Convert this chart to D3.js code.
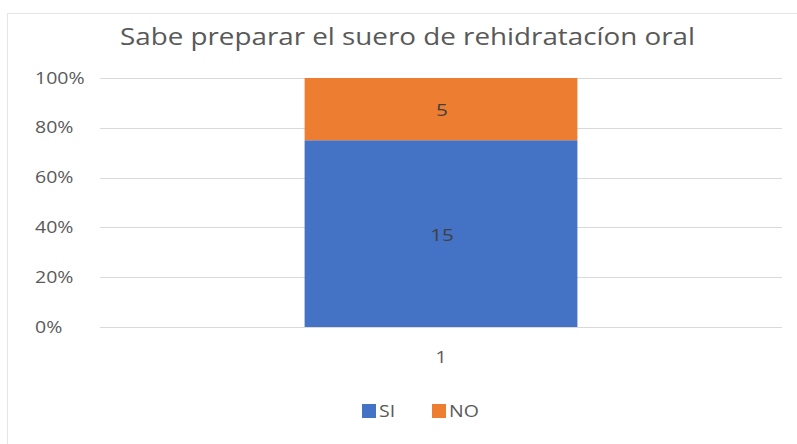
<!DOCTYPE html>
<html>
<head>
<meta charset="utf-8">
<script src="https://cdn.jsdelivr.net/npm/d3@7"></script>
<style>
  body { margin: 0; background: #fff; }
  svg { display: block; font-family: "Open Sans", "Noto Sans", sans-serif; }
  .grid line { stroke: #d9d9d9; stroke-width: 1; }
</style>
</head>
<body>
<svg id="vis" width="797" height="444"></svg>
<script>
// chart data
const categories = ["1"];
const seriesNames = ["SI", "NO"];
const siValues = [15];
const noValues = [5];
const yTicks = [0, 0.2, 0.4, 0.6, 0.8, 1];
const colors = { "SI": "#4472c4", "NO": "#ed7d31" };

const svg = d3.select('#vis');
const WIDTH = 797, HEIGHT = 444;
const margin = { top: 78, right: 15, bottom: 117, left: 100 };
const STRETCH = 1.22; // the picture is a bit wider than its text

// frame
svg.append("rect")
    .attr("x", 7.5).attr("y", 13.5)
    .attr("width", WIDTH - 7).attr("height", HEIGHT)
    .attr("fill", "#fff")
    .attr("stroke", "#e6e6e6");

// title
svg.append("text")
    .attr("x", 120).attr("y", 45)
    .attr("font-size", 23)
    .attr("fill", "#595959")
    .attr("textLength", 575)
    .attr("lengthAdjust", "spacingAndGlyphs")
    .text("Sabe preparar el suero de rehidratacíon oral");

var x = d3.scaleBand()
    .domain(categories)
    .range([margin.left, WIDTH - margin.right])
    .paddingInner(0.6).paddingOuter(0.3);

var y = d3.scaleLinear()
    .domain([0, 1])
    .range([HEIGHT - margin.bottom, margin.top]);

// gridlines
svg.append("g").attr("class", "grid")
    .selectAll("line")
    .data(yTicks)
    .enter().append("line")
    .attr("x1", margin.left).attr("x2", WIDTH - margin.right)
    .attr("y1", function (d) { return Math.round(y(d)) + 0.5; })
    .attr("y2", function (d) { return Math.round(y(d)) + 0.5; });

// y axis labels (left aligned, like the picture)
var pct = d3.format(".0%");
svg.append("g")
    .selectAll("text")
    .data(yTicks)
    .enter().append("text")
    .attr("transform", function (d) {
        return "translate(35," + y(d) + ") scale(" + STRETCH + ",1)";
    })
    .attr("dy", "0.35em")
    .attr("font-size", 16)
    .attr("fill", "#595959")
    .text(function (d) { return pct(d); });

// x axis labels
svg.append("g")
    .selectAll("text")
    .data(categories)
    .enter().append("text")
    .attr("transform", function (d) {
        return "translate(" + (x(d) + x.bandwidth() / 2) + "," + (y(0) + 30) + ") scale(" + STRETCH + ",1)";
    })
    .attr("dy", "0.35em")
    .attr("text-anchor", "middle")
    .attr("font-size", 16)
    .attr("fill", "#595959")
    .text(function (d) { return d; });

// stacked percentages
var rows = categories.map(function (c, i) {
    return { cat: c, SI: siValues[i], NO: noValues[i] };
});
var stack = d3.stack().keys(seriesNames).offset(d3.stackOffsetExpand);
var layers = stack(rows);

var layer = svg.selectAll(".layer")
    .data(layers)
    .enter().append("g")
    .attr("class", "layer")
    .attr("fill", function (d) { return colors[d.key]; });

layer.selectAll("rect")
    .data(function (d) { return d; })
    .enter().append("rect")
    .attr("x", function (d) { return x(d.data.cat); })
    .attr("width", x.bandwidth())
    .attr("y", function (d) { return y(d[1]); })
    .attr("height", function (d) { return y(d[0]) - y(d[1]); });

// data labels
layers.forEach(function (l) {
    l.forEach(function (d) {
        var cx = x(d.data.cat) + x.bandwidth() / 2 + 1;
        var cy = (y(d[0]) + y(d[1])) / 2 + 1;
        svg.append("text")
            .attr("transform", "translate(" + cx + "," + cy + ") scale(" + STRETCH + ",1)")
            .attr("dy", "0.35em")
            .attr("text-anchor", "middle")
            .attr("font-size", 17)
            .attr("fill", "#404040")
            .text(d.data[l.key]);
    });
});

// legend
var legendX = [362, 432];
var legend = svg.selectAll(".legend")
    .data(seriesNames)
    .enter().append("g")
    .attr("class", "legend")
    .attr("transform", function (d, i) { return "translate(" + legendX[i] + ",404)"; });

legend.append("rect")
    .attr("width", 14).attr("height", 14)
    .attr("fill", function (d) { return colors[d]; });

legend.append("text")
    .attr("transform", "translate(17,7) scale(" + STRETCH + ",1)")
    .attr("dy", "0.35em")
    .attr("font-size", 16)
    .attr("fill", "#595959")
    .text(function (d) { return d; });
</script>
</body>
</html>
